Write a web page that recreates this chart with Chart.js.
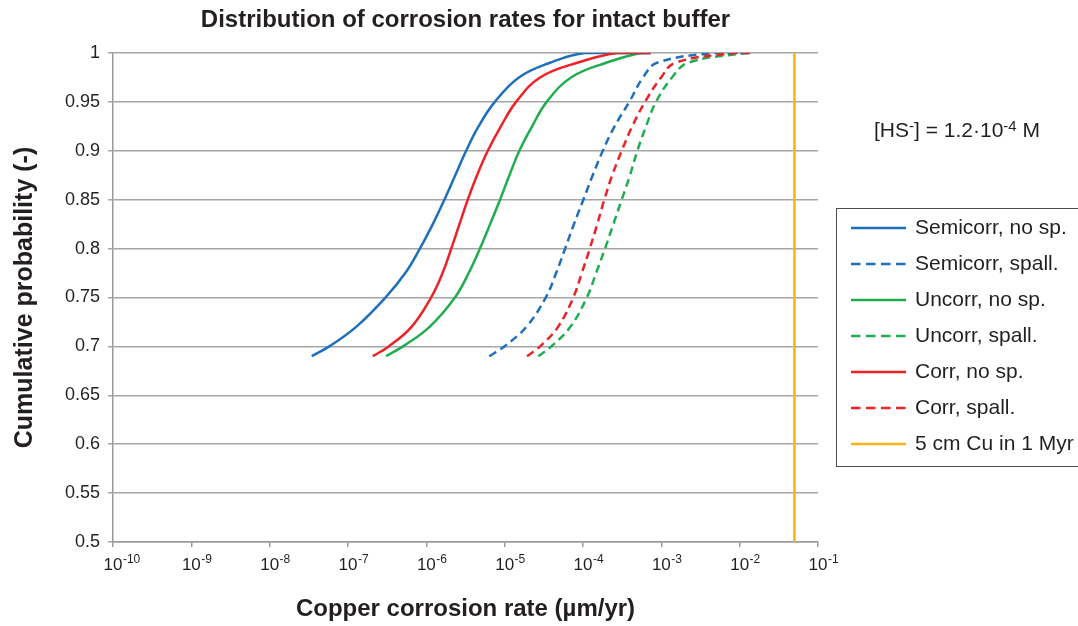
<!DOCTYPE html>
<html>
<head>
<meta charset="utf-8">
<script src="https://cdn.jsdelivr.net/npm/chart.js@4.4.1/dist/chart.umd.min.js"></script>
<style>
  html, body { margin: 0; padding: 0; background: #fff; }
</style>
</head>
<body>
<canvas id="rateChart" width="1078" height="626"></canvas>
<script>
// cumulative probability levels shared by all six distributions
const cumProb = [0.69, 0.70, 0.72, 0.75, 0.775, 0.80, 0.825, 0.85, 0.875, 0.90, 0.925, 0.95, 0.975, 0.99, 1.0, 1.0];

// corrosion rates (µm/yr) at each probability level
const semicorrNoSp = [3.44e-8, 5.77e-8, 1.27e-7, 3.01e-7, 5.39e-7, 8.28e-7, 1.21e-6, 1.7e-6, 2.34e-6, 3.22e-6, 4.64e-6, 7.49e-6, 1.52e-5, 3.79e-5, 1.06e-4, 7.31e-4];
const semicorrSpall = [6.37e-6, 9.9e-6, 1.89e-5, 3.35e-5, 4.54e-5, 5.91e-5, 7.66e-5, 1.01e-4, 1.33e-4, 1.79e-4, 2.53e-4, 3.9e-4, 5.84e-4, 8.81e-4, 4.85e-3, 1.36e-2];
const uncorrNoSp = [3.06e-7, 5.04e-7, 1.1e-6, 2.32e-6, 3.47e-6, 4.84e-6, 6.52e-6, 8.72e-6, 1.15e-5, 1.54e-5, 2.24e-5, 3.44e-5, 7.03e-5, 1.97e-4, 5.34e-4, 7.31e-4];
const uncorrSpall = [2.69e-5, 3.94e-5, 6.89e-5, 1.12e-4, 1.47e-4, 1.91e-4, 2.44e-4, 3.12e-4, 3.98e-4, 4.94e-4, 6.38e-4, 8.55e-4, 1.37e-3, 2.19e-3, 1.17e-2, 1.36e-2];
const corrNoSp = [2.07e-7, 3.31e-7, 6.47e-7, 1.15e-6, 1.61e-6, 2.08e-6, 2.65e-6, 3.38e-6, 4.44e-6, 6.09e-6, 8.94e-6, 1.4e-5, 2.83e-5, 8.39e-5, 2.72e-4, 7.31e-4];
const corrSpall = [1.93e-5, 2.83e-5, 4.8e-5, 7.52e-5, 9.65e-5, 1.22e-4, 1.52e-4, 1.87e-4, 2.36e-4, 3.12e-4, 4.25e-4, 6.19e-4, 9.91e-4, 1.5e-3, 8.73e-3, 1.36e-2];

// 5 cm of copper in 1 Myr = 0.05 µm/yr
const limitRate = 0.05;
const limitProb = [0.5, 1];

const rateTicks = [1e-10, 1e-9, 1e-8, 1e-7, 1e-6, 1e-5, 1e-4, 1e-3, 1e-2, 1e-1];

const seriesLabels = ['Semicorr, no sp.', 'Semicorr, spall.', 'Uncorr, no sp.', 'Uncorr, spall.', 'Corr, no sp.', 'Corr, spall.', '5 cm Cu in 1 Myr'];
const seriesRates = [semicorrNoSp, semicorrSpall, uncorrNoSp, uncorrSpall, corrNoSp, corrSpall];
const seriesColors = ['#1f6fbb', '#1f6fbb', '#21ad4f', '#21ad4f', '#ec2227', '#ec2227', '#fcb415'];
const seriesDashed = [false, true, false, true, false, true, false];

const FONT = '"Liberation Sans", Arial, sans-serif';
const TEXT = '#231f20';

function toPoints(rates) {
    return rates.map((x, i) => ({ x: x, y: cumProb[i] }));
}

const datasets = seriesRates.map((rates, i) => ({
    label: seriesLabels[i],
    data: toPoints(rates),
    borderColor: seriesColors[i],
    borderWidth: 2.5,
    borderDash: seriesDashed[i] ? [8, 5] : [],
    pointRadius: 0,
    tension: 0.4,
    order: i >= 4 ? 0 : 1,
}));
datasets.push({
    label: seriesLabels[6],
    data: limitProb.map(p => ({ x: limitRate, y: p })),
    borderColor: seriesColors[6],
    borderWidth: 2.5,
    borderDash: [],
    pointRadius: 0,
    order: 2,
});

// x tick labels as 10 with a raised exponent
const powerLabels = {
    id: 'powerLabels',
    afterDraw(chart) {
        const { ctx, scales: { x } } = chart;
        ctx.save();
        ctx.fillStyle = TEXT;
        ctx.textBaseline = 'alphabetic';
        x.ticks.forEach(t => {
            const px = x.getPixelForValue(t.value);
            const exp = Math.round(Math.log10(t.value));
            ctx.font = '17px ' + FONT;
            ctx.textAlign = 'center';
            ctx.fillText('10', px, x.top + 28);
            const w = ctx.measureText('10').width;
            ctx.font = '12px ' + FONT;
            ctx.textAlign = 'left';
            ctx.fillText(String(exp), px + w / 2 + 0.5, x.top + 21);
        });
        ctx.restore();
    }
};

// boxed legend and the sulphide concentration note on the right
const sideLegend = {
    id: 'sideLegend',
    afterDraw(chart) {
        const ctx = chart.ctx;
        ctx.save();
        ctx.strokeStyle = '#4d4d4d';
        ctx.lineWidth = 1;
        ctx.setLineDash([]);
        ctx.strokeRect(836.5, 208.5, 260, 258);

        ctx.font = '21px ' + FONT;
        ctx.fillStyle = TEXT;
        ctx.textBaseline = 'middle';
        ctx.textAlign = 'left';
        chart.data.datasets.forEach((ds, i) => {
            const y = 228 + i * 36;
            ctx.beginPath();
            ctx.setLineDash(ds.borderDash.length ? [9.5, 5.5] : []);
            ctx.strokeStyle = ds.borderColor;
            ctx.lineWidth = ds.borderWidth;
            ctx.moveTo(851, y);
            ctx.lineTo(906, y);
            ctx.stroke();
            ctx.fillText(ds.label, 915, y);
        });

        // [HS-] = 1.2·10-4 M
        const parts = [['[HS', false], ['-', true], ['] = 1.2\u00b710', false], ['-4', true], [' M', false]];
        let px = 874;
        ctx.textBaseline = 'alphabetic';
        parts.forEach(([s, sup]) => {
            ctx.font = (sup ? '15px ' : '21px ') + FONT;
            ctx.fillText(s, px, sup ? 131 : 137);
            px += ctx.measureText(s).width;
        });
        ctx.restore();
    }
};

new Chart(document.getElementById('rateChart'), {
    type: 'scatter',
    data: { datasets: datasets },
    options: {
        responsive: false,
        animation: false,
        showLine: true,
        layout: { padding: { left: 0, right: 260, top: 0, bottom: 0 } },
        plugins: {
            legend: { display: false },
            tooltip: { enabled: false },
            title: {
                display: true,
                fullSize: false,
                text: 'Distribution of corrosion rates for intact buffer',
                color: TEXT,
                font: { family: FONT, size: 24, weight: 'bold' },
                padding: { top: 6, bottom: 18.2 },
            },
        },
        scales: {
            x: {
                type: 'logarithmic',
                min: 1e-10,
                max: 1e-1,
                afterBuildTicks: scale => { scale.ticks = rateTicks.map(v => ({ value: v })); },
                afterFit: scale => { scale.height = 84; },
                ticks: { display: false },
                grid: { drawOnChartArea: false, tickLength: 5, color: '#999', lineWidth: 1.5 },
                border: { color: '#999', width: 1.5 },
                title: {
                    display: true,
                    text: 'Copper corrosion rate (µm/yr)',
                    color: TEXT,
                    font: { family: FONT, size: 24, weight: 'bold' },
                    padding: { top: 0, bottom: 2 },
                },
            },
            y: {
                min: 0.5,
                max: 1,
                afterFit: scale => { scale.width = 113; },
                ticks: {
                    stepSize: 0.05,
                    padding: 8,
                    color: TEXT,
                    font: { family: FONT, size: 18 },
                    callback: v => String(+v.toFixed(2)),
                },
                grid: { color: '#a6a6a6', lineWidth: 1.5, tickLength: 5 },
                border: { color: '#999', width: 1.5 },
                title: {
                    display: true,
                    text: 'Cumulative probability (-)',
                    color: TEXT,
                    font: { family: FONT, size: 25, weight: 'bold' },
                    padding: { top: 10, bottom: 0 },
                },
            },
        },
    },
    plugins: [powerLabels, sideLegend],
});
</script>
</body>
</html>
